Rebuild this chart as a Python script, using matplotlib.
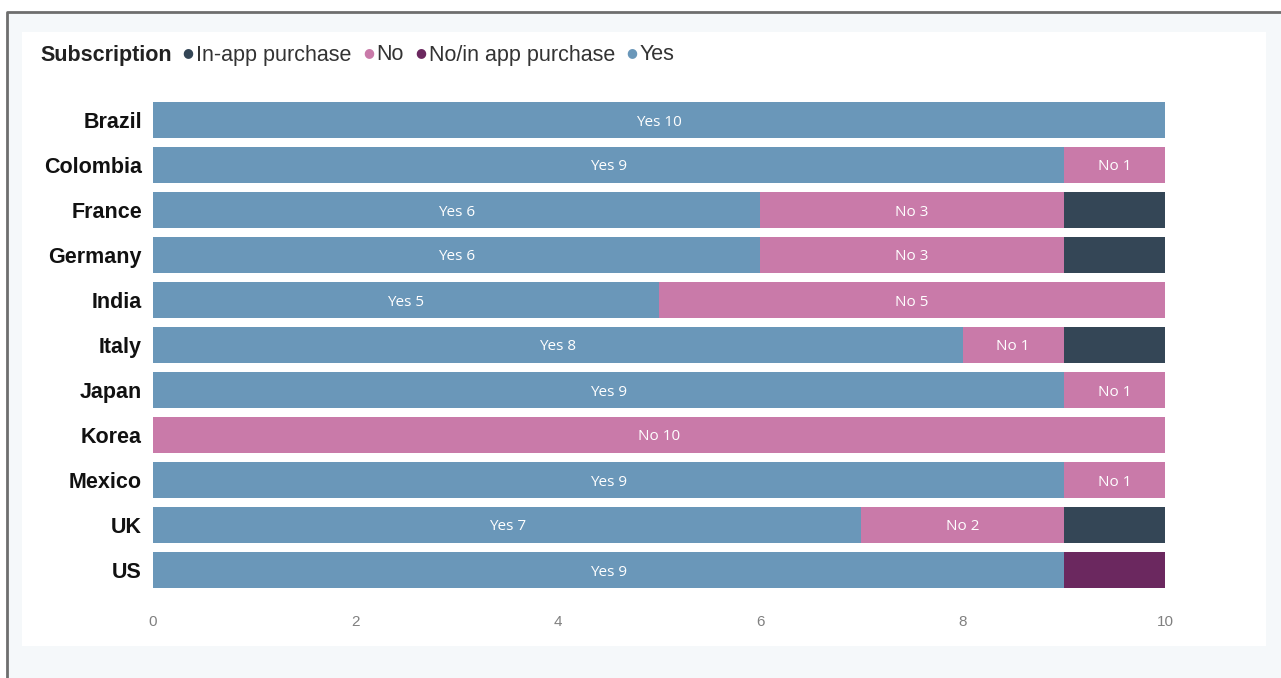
import numpy as np
import matplotlib.pyplot as plt
from matplotlib.patches import Rectangle
from matplotlib.lines import Line2D

countries = ["Brazil", "Colombia", "France", "Germany", "India", "Italy",
             "Japan", "Korea", "Mexico", "UK", "US"]
yes = [10, 9, 6, 6, 5, 8, 9, 0, 9, 7, 9]
no = [0, 1, 3, 3, 5, 1, 1, 10, 1, 2, 0]
in_app = [0, 0, 1, 1, 0, 1, 0, 0, 0, 1, 0]
no_in_app = [0, 0, 0, 0, 0, 0, 0, 0, 0, 0, 1]

c_yes = "#6a97b9"
c_no = "#c97aa9"
c_inapp = "#344656"
c_noinapp = "#6b285f"

plt.rcParams["font.family"] = ["Liberation Sans", "DejaVu Sans"]

W, H = 1281, 678
fig = plt.figure(figsize=(W / 100, H / 100), dpi=100, facecolor="white")

# page background, panel and frame
fig.patches.append(Rectangle((8 / W, 0), 1, 1 - 12 / H, transform=fig.transFigure,
                             facecolor="#f5f8fa", edgecolor="none", zorder=-3))
fig.patches.append(Rectangle((22 / W, 1 - 646 / H), (1266 - 22) / W, (646 - 32) / H,
                             transform=fig.transFigure, facecolor="white",
                             edgecolor="none", zorder=-2))
fig.lines.append(Line2D([7 / W, 7 / W, 1], [0, 1 - 12 / H, 1 - 12 / H],
                        transform=fig.transFigure, color="#6e6e6e", lw=2))

ax = fig.add_axes([153 / W, 1 - 592.5 / H, (1165 - 153) / W, (592.5 - 97.5) / H])
ax.set_facecolor("none")

y = np.arange(len(countries))
yes_a = np.array(yes)
no_a = np.array(no)
inapp_a = np.array(in_app)
noinapp_a = np.array(no_in_app)

h = 0.8
ax.barh(y, yes_a, height=h, color=c_yes)
ax.barh(y, no_a, left=yes_a, height=h, color=c_no)
ax.barh(y, inapp_a, left=yes_a + no_a, height=h, color=c_inapp)
ax.barh(y, noinapp_a, left=yes_a + no_a + inapp_a, height=h, color=c_noinapp)

for i in range(len(countries)):
    if yes_a[i] > 0:
        ax.text(yes_a[i] / 2, y[i], f"Yes {yes_a[i]}", ha="center",
                va="center_baseline", color="white", fontsize=11, family="Open Sans")
    if no_a[i] > 0:
        ax.text(yes_a[i] + no_a[i] / 2, y[i], f"No {no_a[i]}", ha="center",
                va="center_baseline", color="white", fontsize=11, family="Open Sans")

ax.set_xlim(0, 10)
ax.set_ylim(len(countries) - 0.5, -0.5)
ax.set_xticks([0, 2, 4, 6, 8, 10])
ax.set_yticks(y)
ax.set_yticklabels(countries, fontsize=15.5, fontweight="bold", color="#111111")
ax.tick_params(axis="x", length=0, pad=16, labelsize=11, labelcolor="#808080")
ax.tick_params(axis="y", length=0, pad=8)
for s in ax.spines.values():
    s.set_visible(False)

# legend row
t = fig.text(40 / W, 1 - 55 / H, "Subscription", fontsize=15.5, fontweight="bold",
             color="#222222", va="center")
entries = [("In-app purchase", c_inapp), ("No", c_no),
           ("No/in app purchase", c_noinapp), ("Yes", c_yes)]
prev = t
for label, col in entries:
    dot = ax.annotate("\u25CF", xy=(1, 0.5), xycoords=prev, xytext=(8, 1.5),
                      textcoords="offset points", color=col, fontsize=9,
                      family="DejaVu Sans", va="center", ha="left")
    prev = ax.annotate(label, xy=(1, 0.5), xycoords=dot, xytext=(2, -1.5),
                       textcoords="offset points", color="#333333", fontsize=15.5,
                       va="center", ha="left")

fig.savefig("out.png", dpi=100)
